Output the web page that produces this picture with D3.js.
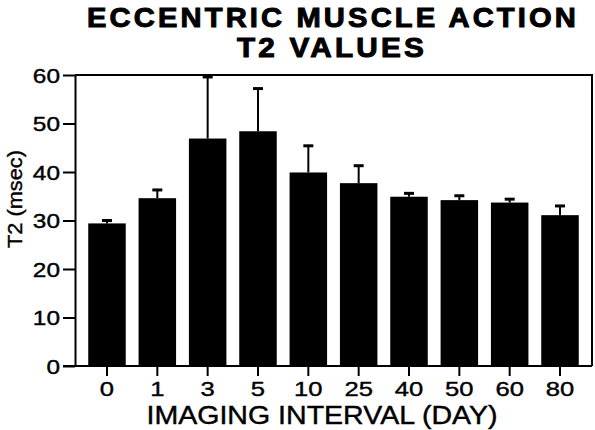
<!DOCTYPE html>
<html>
<head>
<meta charset="utf-8">
<script src="https://cdn.jsdelivr.net/npm/d3@7"></script>
<style>
    body { margin: 0; background: #fff; }
    svg { display: block; }
    text { font-family: "Liberation Sans", Arial, sans-serif; fill: #000; }
</style>
</head>
<body>
<svg id="chart" width="595" height="430"></svg>
<script>
// imaging interval (days) and mean T2 values with upper error
var days = ["0", "1", "3", "5", "10", "25", "40", "50", "60", "80"];
var t2Mean = [29.4, 34.6, 46.9, 48.4, 39.9, 37.7, 34.9, 34.2, 33.7, 31.1];
var t2Upper = [30.0, 36.3, 59.6, 57.2, 45.4, 41.3, 35.6, 35.1, 34.4, 33.0];
var yTicks = [0, 10, 20, 30, 40, 50, 60];

var plotLeft = 75, plotRight = 592, plotTop = 75, plotBottom = 366;
var stretch = 1.22; // the scanned text is a bit wider than Arial

var svg = d3.select("#chart");

var x = d3.scaleBand()
    .domain(days)
    .range([plotLeft, plotRight])
    .paddingInner(0.255)
    .paddingOuter(0.263);

var y = d3.scaleLinear()
    .domain([0, 60])
    .range([plotBottom, plotTop]);

// frame (top and right)
svg.append("path")
    .attr("d", "M" + plotLeft + "," + plotTop + "H" + plotRight + "V" + plotBottom)
    .attr("fill", "none")
    .attr("stroke", "#000")
    .attr("stroke-width", 2);

// bars
svg.selectAll("rect.bar")
    .data(days)
    .enter()
    .append("rect")
    .attr("class", "bar")
    .attr("x", function (d) { return x(d); })
    .attr("y", function (d, i) { return y(t2Mean[i]); })
    .attr("width", x.bandwidth())
    .attr("height", function (d, i) { return plotBottom - y(t2Mean[i]); })
    .attr("fill", "#000");

// upper error bars
var err = svg.selectAll("g.err")
    .data(days)
    .enter()
    .append("g")
    .attr("class", "err");

err.append("line")
    .attr("x1", function (d) { return x(d) + x.bandwidth() / 2; })
    .attr("x2", function (d) { return x(d) + x.bandwidth() / 2; })
    .attr("y1", function (d, i) { return y(t2Mean[i]); })
    .attr("y2", function (d, i) { return y(t2Upper[i]); })
    .attr("stroke", "#000")
    .attr("stroke-width", 2);

err.append("line")
    .attr("x1", function (d) { return x(d) + x.bandwidth() / 2 - 5; })
    .attr("x2", function (d) { return x(d) + x.bandwidth() / 2 + 5; })
    .attr("y1", function (d, i) { return y(t2Upper[i]); })
    .attr("y2", function (d, i) { return y(t2Upper[i]); })
    .attr("stroke", "#000")
    .attr("stroke-width", 3);

// y axis
var yAxis = svg.append("g")
    .attr("transform", "translate(" + plotLeft + ",0)")
    .call(d3.axisLeft(y).tickValues(yTicks).tickSize(12).tickSizeOuter(0).tickPadding(0));
yAxis.select(".domain").attr("stroke-width", 2);
yAxis.selectAll(".tick line").attr("stroke-width", 2);
yAxis.selectAll(".tick text")
    .attr("x", -15 / stretch)
    .attr("dy", "0.36em")
    .attr("transform", "scale(" + stretch + ",1)")
    .attr("stroke", "#000")
    .attr("stroke-width", 0.4)
    .style("font-size", "20px")
    .style("font-family", null);

// x axis
var xAxis = svg.append("g")
    .attr("transform", "translate(0," + plotBottom + ")")
    .call(d3.axisBottom(x).tickSize(10).tickSizeOuter(0).tickPadding(0));
xAxis.select(".domain")
    .attr("d", "M" + (plotLeft - 12) + ",0H" + plotRight)
    .attr("stroke-width", 2);
xAxis.selectAll(".tick line").attr("stroke-width", 2);
xAxis.selectAll(".tick text")
    .attr("y", 30)
    .attr("dy", null)
    .attr("transform", "scale(" + stretch + ",1)")
    .attr("stroke", "#000")
    .attr("stroke-width", 0.4)
    .style("font-size", "21px")
    .style("font-family", null);

// titles
svg.append("text")
    .attr("x", 333).attr("y", 27)
    .attr("text-anchor", "middle")
    .attr("textLength", 492)
    .attr("lengthAdjust", "spacingAndGlyphs")
    .attr("stroke", "#000")
    .attr("stroke-width", 1)
    .style("letter-spacing", "3px")
    .style("font-size", "28px")
    .style("font-weight", "bold")
    .text("ECCENTRIC MUSCLE ACTION");

svg.append("text")
    .attr("x", 332).attr("y", 57)
    .attr("text-anchor", "middle")
    .attr("textLength", 190)
    .attr("lengthAdjust", "spacingAndGlyphs")
    .attr("stroke", "#000")
    .attr("stroke-width", 1)
    .style("letter-spacing", "3px")
    .style("font-size", "28px")
    .style("font-weight", "bold")
    .text("T2 VALUES");

svg.append("text")
    .attr("x", 322).attr("y", 424)
    .attr("text-anchor", "middle")
    .attr("textLength", 351)
    .attr("lengthAdjust", "spacingAndGlyphs")
    .attr("stroke", "#000")
    .attr("stroke-width", 0.4)
    .style("font-size", "25px")
    .text("IMAGING INTERVAL (DAY)");

svg.append("text")
    .attr("transform", "translate(22,199) rotate(-90)")
    .attr("text-anchor", "middle")
    .attr("textLength", 98)
    .attr("lengthAdjust", "spacingAndGlyphs")
    .attr("stroke", "#000")
    .attr("stroke-width", 0.4)
    .style("font-size", "21px")
    .text("T2 (msec)");
</script>
</body>
</html>
